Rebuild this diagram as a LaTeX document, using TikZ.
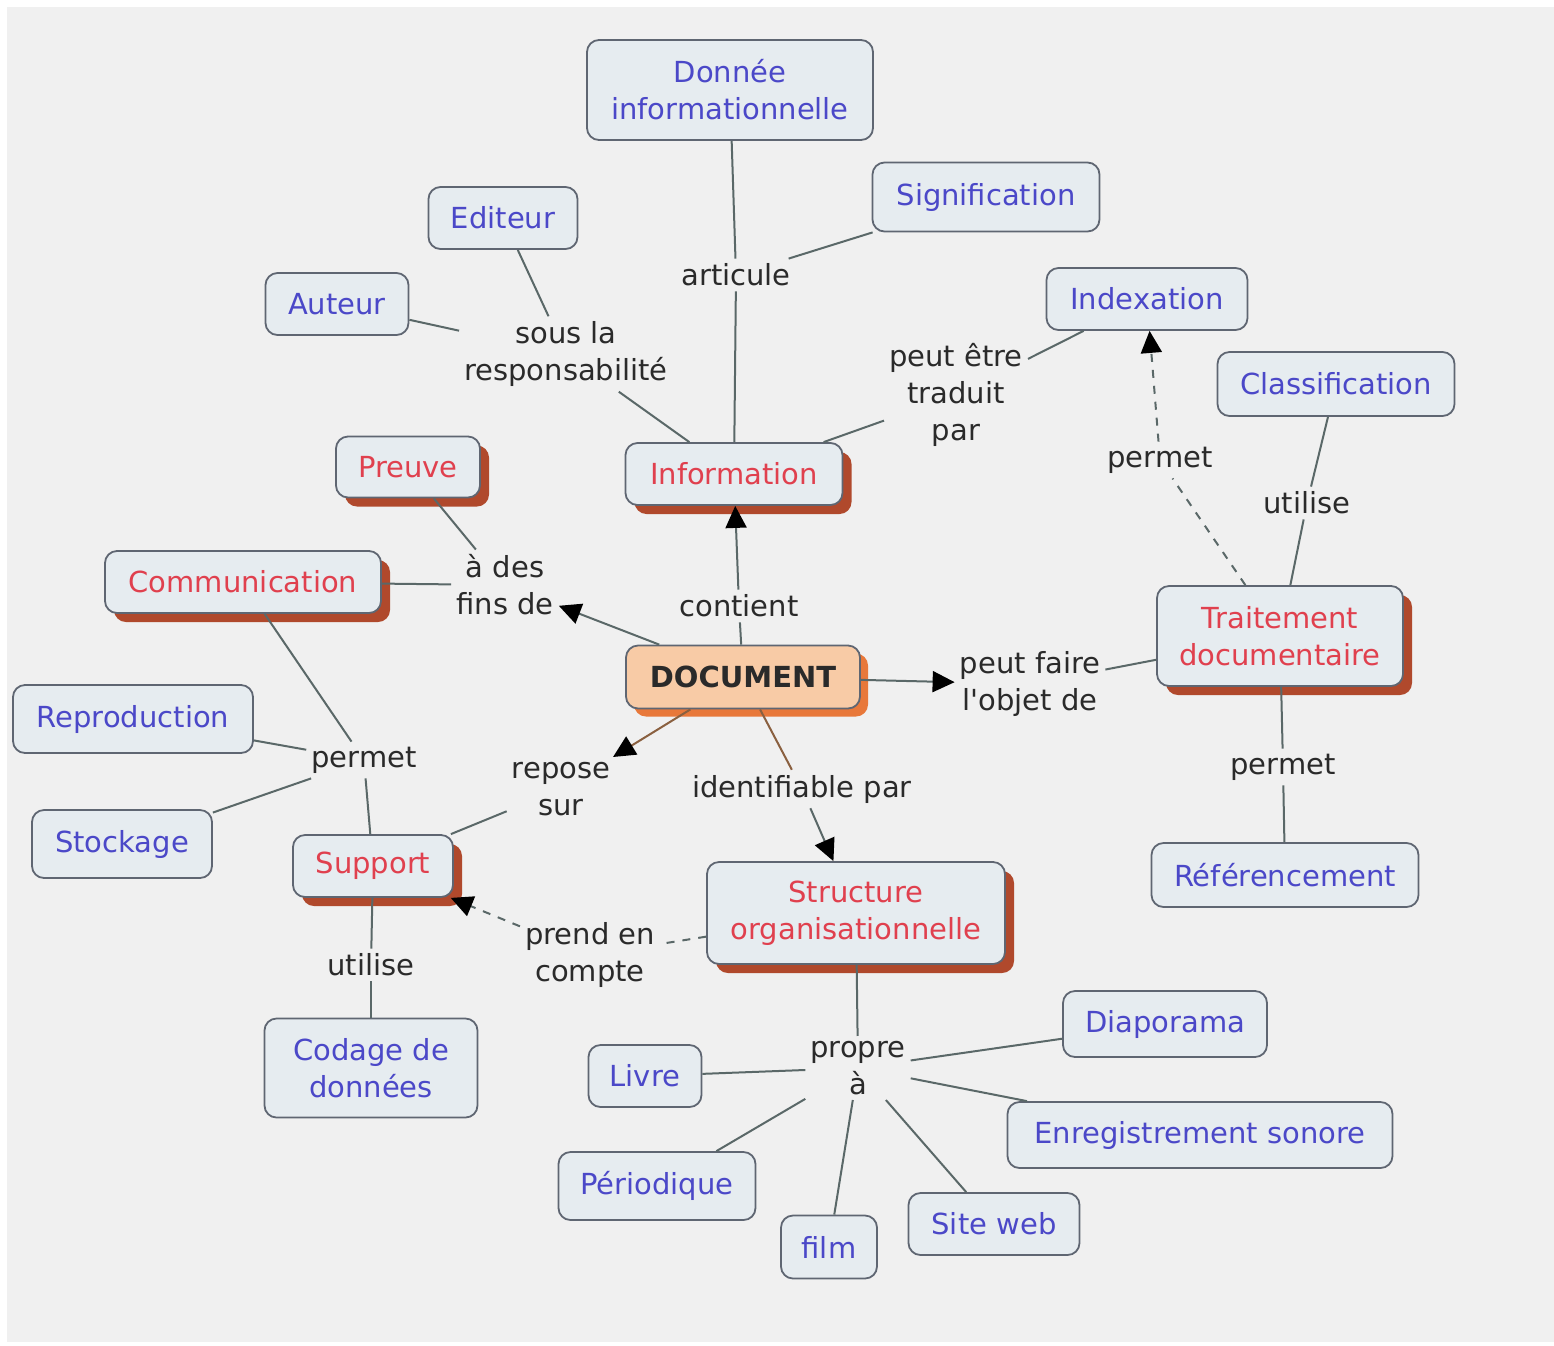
\documentclass[tikz,border=0pt]{standalone}
\usepackage{fontspec}
\setmainfont{DejaVu Sans}
\usetikzlibrary{arrows.meta,shadows}
\definecolor{bgcol}{HTML}{F0F0F0}
\definecolor{nodefill}{HTML}{E6ECF0}
\definecolor{nodeborder}{HTML}{5F6672}
\definecolor{bluetext}{HTML}{4B48C8}
\definecolor{redtext}{HTML}{E0404E}
\definecolor{labeltext}{HTML}{2A2A2A}
\definecolor{linkcol}{HTML}{5A6868}
\definecolor{doclink}{HTML}{8A6040}
\definecolor{shadowred}{HTML}{B0492C}
\definecolor{docfill}{HTML}{F8CBA6}
\definecolor{docshadow}{HTML}{E8783A}
\newcommand{\mapfont}{\fontsize{29}{37}\selectfont}
\begin{document}
\begin{tikzpicture}[x=1pt,y=-1pt,
  concept/.style={draw=nodeborder, line width=1.8pt, fill=nodefill, rounded corners=12pt,
    inner sep=0pt, align=center, font=\mapfont, text=bluetext},
  redc/.style={concept, text=redtext,
    drop shadow={shadow xshift=9pt, shadow yshift=-9pt, fill=shadowred, opacity=1}},
  docc/.style={concept, fill=docfill, text=labeltext, font=\mapfont\bfseries,
    drop shadow={shadow xshift=8pt, shadow yshift=-8pt, fill=docshadow, opacity=1}},
  lbl/.style={font=\mapfont, text=labeltext, align=center, inner sep=5pt},
  link/.style={draw=linkcol, line width=2pt},
  arr/.style={link, arrows={-Triangle[length=22pt,width=21pt,black]}},
  dsh/.style={dash pattern=on 8pt off 8pt}
]
\useasboundingbox (0,0) rectangle (1554,1345);
\fill[white] (0,0) rectangle (1554,1345);
\fill[bgcol] (7,7) rectangle (1554,1342);

% concepts
\node[concept, minimum width=286pt, minimum height=100pt] (donnee) at (730,90) {Donnée\\informationnelle};
\node[concept, minimum width=227pt, minimum height=69pt] (signif) at (986,197) {Signification};
\node[concept, minimum width=149pt, minimum height=62pt] (editeur) at (503,218) {Editeur};
\node[concept, minimum width=143pt, minimum height=62pt] (auteur) at (337,304) {Auteur};
\node[concept, minimum width=201pt, minimum height=62pt] (indexation) at (1147,299) {Indexation};
\node[concept, minimum width=237pt, minimum height=64pt] (classif) at (1336,384) {Classification};
\node[redc, minimum width=217pt, minimum height=62pt] (information) at (734,474) {Information};
\node[redc, minimum width=144pt, minimum height=61pt] (preuve) at (408,467) {Preuve};
\node[redc, minimum width=276pt, minimum height=62pt] (communication) at (243,582) {Communication};
\node[docc, minimum width=234pt, minimum height=63pt] (document) at (743,677) {DOCUMENT};
\node[redc, minimum width=246pt, minimum height=100pt] (traitement) at (1280,636) {Traitement\\documentaire};
\node[concept, minimum width=240pt, minimum height=68pt] (reproduction) at (133,719) {Reproduction};
\node[concept, minimum width=180pt, minimum height=68pt] (stockage) at (122,844) {Stockage};
\node[redc, minimum width=160pt, minimum height=62pt] (support) at (373,866) {Support};
\node[redc, minimum width=298pt, minimum height=102pt] (structure) at (856,913) {Structure\\organisationnelle};
\node[concept, minimum width=267pt, minimum height=64pt] (referencement) at (1285,875) {Référencement};
\node[concept, minimum width=213pt, minimum height=99pt] (codage) at (371,1068) {Codage de\\données};
\node[concept, minimum width=113pt, minimum height=62pt] (livre) at (645,1076) {Livre};
\node[concept, minimum width=204pt, minimum height=66pt] (diaporama) at (1165,1024) {Diaporama};
\node[concept, minimum width=385pt, minimum height=66pt] (enreg) at (1200,1135) {Enregistrement sonore};
\node[concept, minimum width=197pt, minimum height=68pt] (periodique) at (657,1186) {Périodique};
\node[concept, minimum width=96pt, minimum height=63pt] (film) at (829,1247) {film};
\node[concept, minimum width=171pt, minimum height=62pt] (siteweb) at (994,1224) {Site web};

% link labels
\node[lbl] (articule) at (736,275) {articule};
\node[lbl] (souslaresp) at (566,354) {sous la\\responsabilité};
\node[lbl] (traduit) at (956,395) {peut être\\traduit\\par};
\node[lbl] (permetA) at (1160,460) {permet};
\node[lbl] (utiliseA) at (1307,503) {utilise};
\node[lbl] (fins) at (505,585) {à des\\fins de};
\node[lbl] (contient) at (739,606) {contient};
\node[lbl] (objet) at (1030,684) {peut faire\\l\textquotesingle objet de};
\node[lbl] (permetB) at (364,760) {permet};
\node[lbl] (repose) at (561,789) {repose\\sur};
\node[lbl] (identifiable) at (802,789) {identifiable par};
\node[lbl] (permetC) at (1283,767) {permet};
\node[lbl] (utiliseB) at (371,965) {utilise};
\node[lbl] (prend) at (590,955) {prend en\\compte};
\node[lbl] (propre) at (858,1068) {propre\\à};

% connectors
\draw[link] (information) -- (articule);
\draw[link] (articule) -- (donnee);
\draw[link] (articule) -- (signif);
\draw[link] (information) -- (souslaresp);
\draw[link] (souslaresp) -- (editeur);
\draw[link] (souslaresp) -- (auteur);
\draw[link] (information) -- (traduit);
\draw[link] (traduit) -- (indexation);
\draw[link,dsh] (traitement) -- (permetA);
\draw[arr,dsh] (permetA) -- (indexation);
\draw[link] (traitement) -- (utiliseA);
\draw[link] (utiliseA) -- (classif);
\draw[link] (document) -- (contient);
\draw[arr] (contient) -- (information);
\draw[arr] (document) -- (fins);
\draw[link] (fins) -- (preuve);
\draw[link] (fins) -- (communication);
\draw[link] (communication) -- (permetB);
\draw[link] (permetB) -- (reproduction);
\draw[link] (permetB) -- (stockage);
\draw[link] (permetB) -- (support);
\draw[arr, draw=doclink] (document) -- (repose);
\draw[link] (repose) -- (support);
\draw[arr] (document) -- (objet);
\draw[link] (objet) -- (traitement);
\draw[link] (traitement) -- (permetC);
\draw[link] (permetC) -- (referencement);
\draw[link, draw=doclink] (document) -- (identifiable);
\draw[arr] (identifiable) -- (structure);
\draw[link] (support) -- (utiliseB);
\draw[link] (utiliseB) -- (codage);
\draw[link,dsh] (structure) -- (prend);
\draw[arr,dsh] (prend) -- (support);
\draw[link] (structure) -- (propre);
\draw[link] (propre) -- (livre);
\draw[link] (propre) -- (diaporama);
\draw[link] (propre) -- (enreg);
\draw[link] (propre) -- (periodique);
\draw[link] (propre) -- (film);
\draw[link] (propre) -- (siteweb);
\end{tikzpicture}
\end{document}
